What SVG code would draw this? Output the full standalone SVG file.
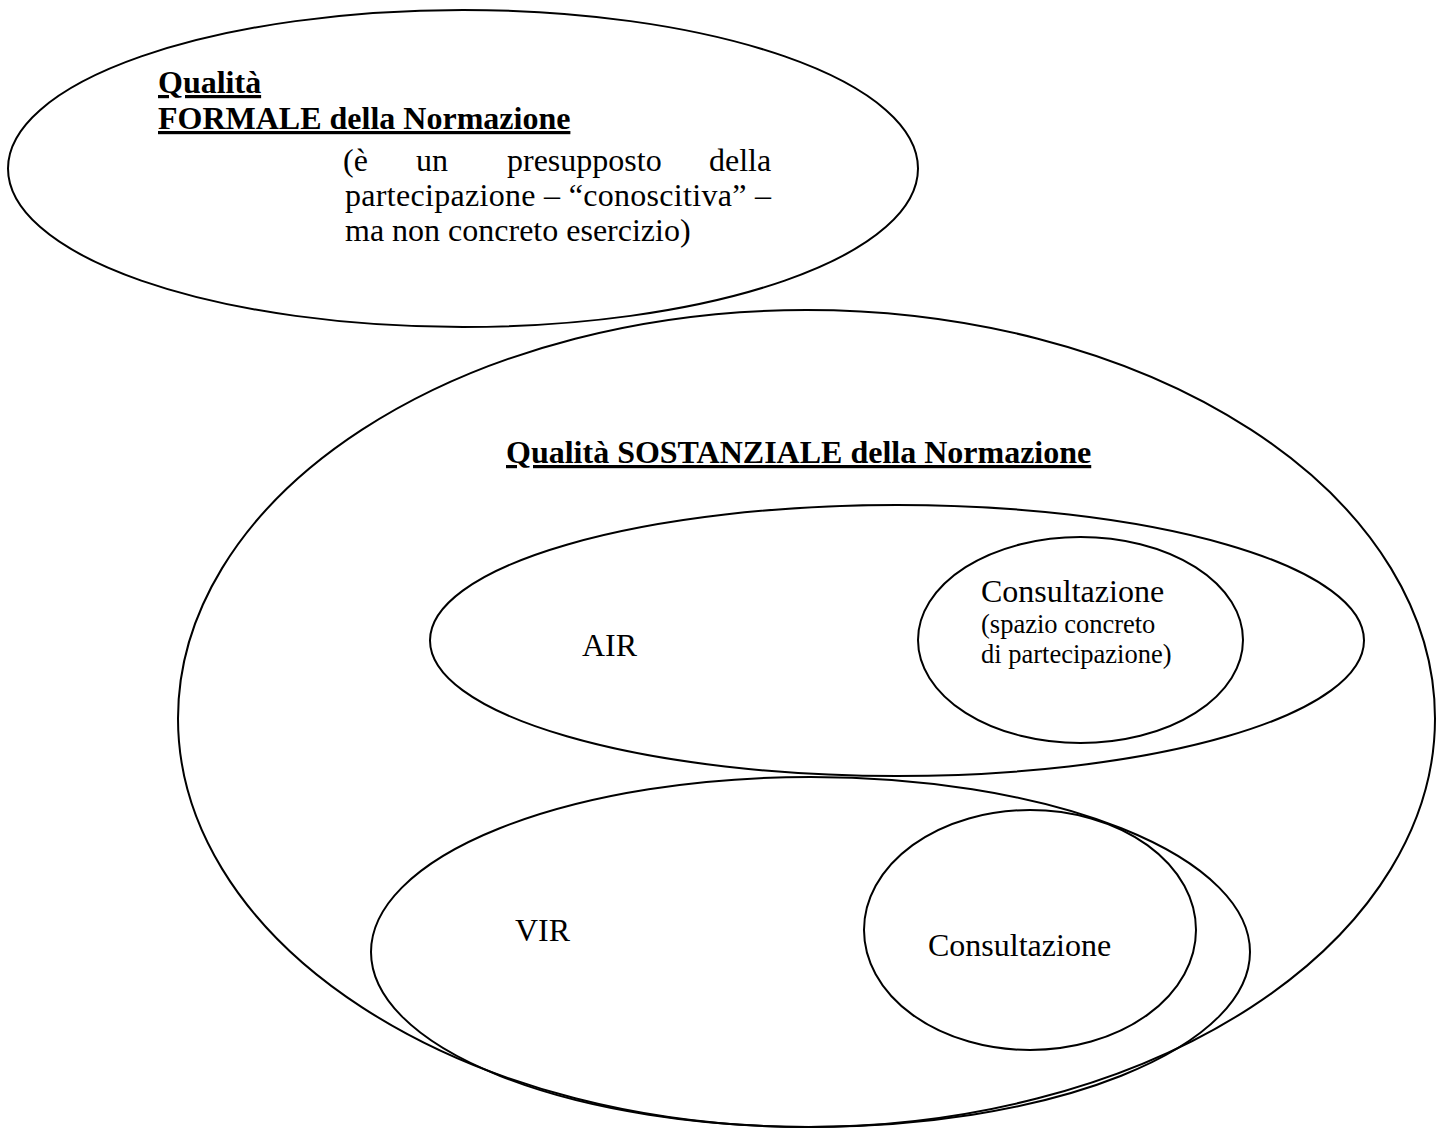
<svg xmlns="http://www.w3.org/2000/svg" width="1444" height="1129" viewBox="0 0 1444 1129">
<style>
.sh{fill:none;stroke:#000;stroke-width:2}
text{font-family:"Liberation Serif","Times New Roman",serif;fill:#000}
.t{font-size:32px}
.b{font-size:32px;font-weight:bold;text-decoration:underline}
.s{font-size:26.5px}
</style>
<rect width="1444" height="1129" fill="#fff"/>
<g id="formale">
<ellipse class="sh" cx="463" cy="168.5" rx="455" ry="158.5"/>
<text class="b" x="158" y="93">Qualità</text>
<text class="b" x="158" y="129">FORMALE della Normazione</text>
<text class="t" y="171"><tspan x="343">(è</tspan><tspan x="416">un</tspan><tspan x="507">presupposto</tspan><tspan x="709">della</tspan></text>
<text class="t" x="345" y="206" textLength="426" lengthAdjust="spacing">partecipazione – “conoscitiva” –</text>
<text class="t" x="345" y="241">ma non concreto esercizio)</text>
</g>
<g id="sostanziale">
<ellipse class="sh" cx="806.5" cy="718.5" rx="628.5" ry="408.5"/>
<text class="b" x="506" y="463">Qualità SOSTANZIALE della Normazione</text>
</g>
<g id="air">
<ellipse class="sh" cx="897" cy="640.5" rx="467" ry="135.5"/>
<text class="t" x="582" y="656">AIR</text>
</g>
<g id="consultazione1">
<ellipse class="sh" cx="1080.5" cy="640" rx="162.5" ry="103"/>
<text class="t" x="981" y="602">Consultazione</text>
<text class="s" x="981" y="633">(spazio concreto</text>
<text class="s" x="981" y="663">di partecipazione)</text>
</g>
<g id="vir">
<ellipse class="sh" cx="810.5" cy="952" rx="439.5" ry="175"/>
<text class="t" x="515" y="941">VIR</text>
</g>
<g id="consultazione2">
<ellipse class="sh" cx="1030" cy="930" rx="166" ry="120"/>
<text class="t" x="928" y="956">Consultazione</text>
</g>
<g id="connectors"></g>
</svg>
